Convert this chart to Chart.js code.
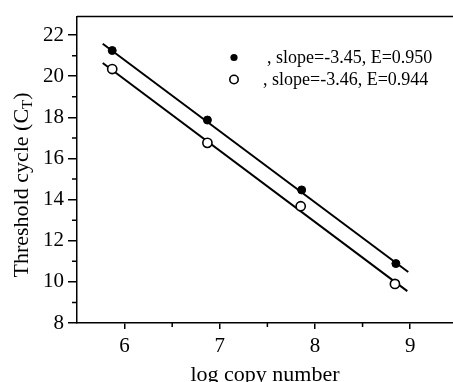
<!DOCTYPE html>
<html>
<head>
<meta charset="utf-8">
<script src="https://cdn.jsdelivr.net/npm/chart.js@4"></script>
<style>
  html, body { margin: 0; padding: 0; background: #fff; overflow: hidden; }
  canvas { display: block; }
</style>
</head>
<body>
<canvas id="canvas" width="453" height="382"></canvas>
<script>
// values
const filledX = [5.87, 6.87, 7.86, 8.85];
const filledCt = [21.25, 17.87, 14.47, 10.89];
const openX = [5.87, 6.87, 7.85, 8.84];
const openCt = [20.35, 16.76, 13.68, 9.9];

// fitted lines, end points
const filledFitX = [5.77, 8.98];
const filledFitY = [21.58, 10.48];
const openFitX = [5.77, 8.97];
const openFitY = [20.64, 9.55];

const legendTexts = [", slope=-3.45, E=0.950", ", slope=-3.46, E=0.944"];
const xTicks = [6, 7, 8, 9];
const xMinor = [6.5, 7.5, 8.5];
const yTicks = [8, 10, 12, 14, 16, 18, 20, 22];
const yMinor = [9, 11, 13, 15, 17, 19, 21];

const serif = "'Liberation Serif', 'Times New Roman', serif";

function toPts(xs, ys) {
    return xs.map((x, i) => ({ x: x, y: ys[i] }));
}

// draws top border, minor ticks, y title and the legend
const extras = {
    id: "extras",
    afterDraw(chart) {
        const c = chart.ctx;
        const area = chart.chartArea;
        const xs = chart.scales.x;
        const ys = chart.scales.y;
        c.save();
        c.strokeStyle = "#000";
        c.lineWidth = 1.5;
        c.beginPath();
        c.moveTo(area.left, area.top);
        c.lineTo(area.right, area.top);
        xMinor.forEach(v => {
            const p = xs.getPixelForValue(v);
            c.moveTo(p, area.bottom);
            c.lineTo(p, area.bottom + 4);
        });
        yMinor.forEach(v => {
            const p = ys.getPixelForValue(v);
            c.moveTo(area.left, p);
            c.lineTo(area.left - 5, p);
        });
        c.stroke();

        // y title with subscript
        c.fillStyle = "#000";
        c.translate(28, 185);
        c.rotate(-Math.PI / 2);
        const big = "22px " + serif, small = "15px " + serif;
        const t1 = "Threshold cycle (C", t2 = "T", t3 = ")";
        c.font = big;
        const w1 = c.measureText(t1).width, w3 = c.measureText(t3).width;
        c.font = small;
        const w2 = c.measureText(t2).width;
        let x0 = -(w1 + w2 + w3) / 2;
        c.textBaseline = "alphabetic";
        c.textAlign = "left";
        c.font = big;
        c.fillText(t1, x0, 0);
        c.font = small;
        c.fillText(t2, x0 + w1, 4);
        c.font = big;
        c.fillText(t3, x0 + w1 + w2, 0);
        c.restore();

        // legend
        c.save();
        c.font = "18px " + serif;
        c.fillStyle = "#000";
        c.textBaseline = "alphabetic";
        c.beginPath();
        c.arc(234, 57.5, 3.6, 0, Math.PI * 2);
        c.fill();
        c.fillText(legendTexts[0], 267, 63);
        c.beginPath();
        c.lineWidth = 1.6;
        c.arc(234, 79.5, 4.2, 0, Math.PI * 2);
        c.fillStyle = "#fff";
        c.fill();
        c.stroke();
        c.fillStyle = "#000";
        c.fillText(legendTexts[1], 263, 85);
        c.restore();
    }
};

new Chart(document.getElementById("canvas"), {
    type: "scatter",
    data: {
        datasets: [
            {
                data: toPts(filledFitX, filledFitY),
                showLine: true,
                borderColor: "#000",
                borderWidth: 2,
                pointRadius: 0,
                order: 3
            },
            {
                data: toPts(openFitX, openFitY),
                showLine: true,
                borderColor: "#000",
                borderWidth: 2,
                pointRadius: 0,
                order: 3
            },
            {
                data: toPts(filledX, filledCt),
                pointRadius: 4,
                pointBackgroundColor: "#000",
                pointBorderColor: "#000",
                pointBorderWidth: 1,
                order: 1
            },
            {
                data: toPts(openX, openCt),
                pointRadius: 4.6,
                pointBackgroundColor: "#fff",
                pointBorderColor: "#000",
                pointBorderWidth: 1.6,
                order: 1
            }
        ]
    },
    options: {
        responsive: false,
        animation: false,
        layout: { autoPadding: false, padding: { top: 15, right: 0, left: 0, bottom: 0 } },
        plugins: {
            legend: { display: false },
            tooltip: { enabled: false }
        },
        scales: {
            x: {
                type: "linear",
                min: 5.5,
                max: 9.45,
                afterBuildTicks: s => { s.ticks = xTicks.map(v => ({ value: v })); },
                afterFit: s => { s.height = 59; s.paddingRight = 0; },
                border: { color: "#000", width: 1.5 },
                grid: { drawOnChartArea: false, color: "#000", tickLength: 6, lineWidth: 1.5 },
                ticks: { color: "#000", font: { family: serif, size: 21 }, padding: 5, maxRotation: 0 },
                title: {
                    display: true,
                    text: "log copy number",
                    color: "#000",
                    font: { family: serif, size: 22 },
                    padding: { top: 0, bottom: -6 }
                }
            },
            y: {
                type: "linear",
                min: 8,
                max: 22.9,
                afterBuildTicks: s => { s.ticks = yTicks.map(v => ({ value: v })); },
                afterFit: s => { s.width = 77; },
                border: { color: "#000", width: 1.5 },
                grid: { drawOnChartArea: false, color: "#000", tickLength: 9, lineWidth: 1.5 },
                ticks: { color: "#000", font: { family: serif, size: 21 }, padding: 4 }
            }
        }
    },
    plugins: [extras]
});
</script>
</body>
</html>
